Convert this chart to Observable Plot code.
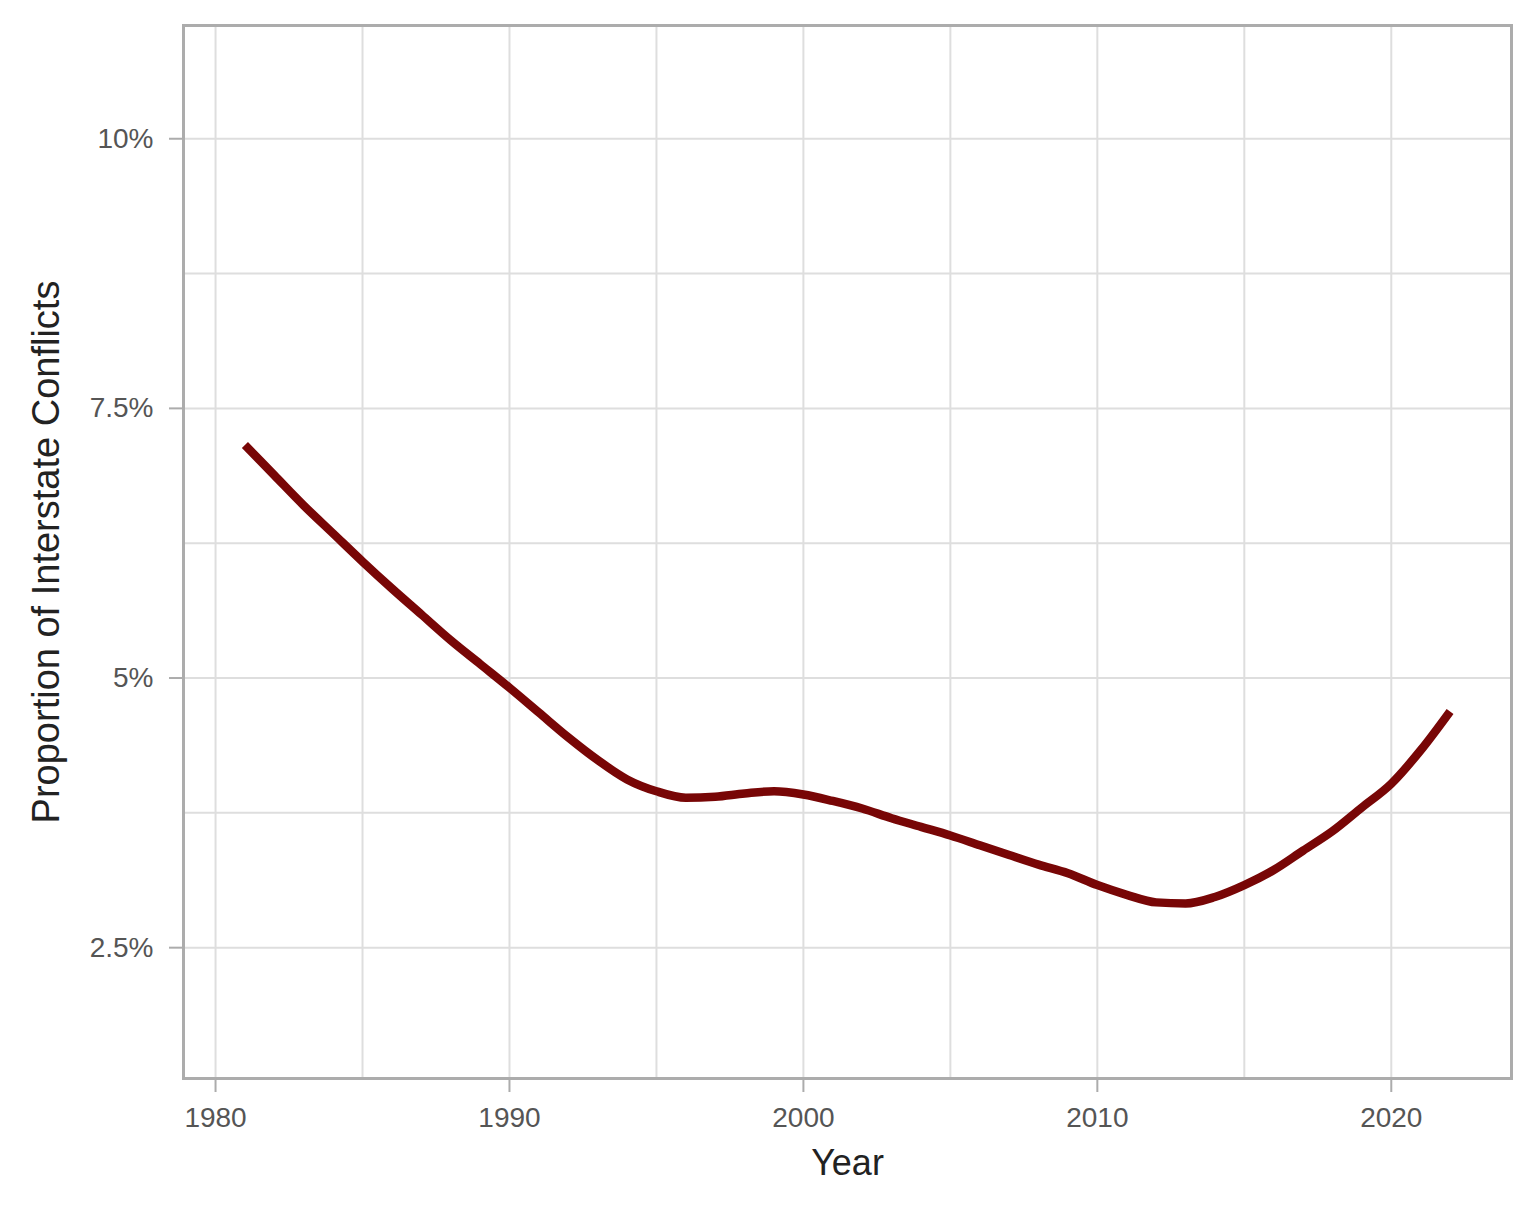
<!DOCTYPE html>
<html>
<head>
<meta charset="utf-8">
<script src="https://cdn.jsdelivr.net/npm/d3@7"></script>
<script src="https://cdn.jsdelivr.net/npm/@observablehq/plot@0.6"></script>
<style>
  html, body { margin: 0; padding: 0; background: #fff; }
  #chart svg { display: block; }
</style>
</head>
<body>
<div id="chart"></div>
<script>
// Years and smoothed proportion of interstate conflicts (%)
const years = [1981,1982,1983,1984,1985,1986,1987,1988,1989,1990,
               1991,1992,1993,1994,1995,1996,1997,1998,1999,2000,
               2001,2002,2003,2004,2005,2006,2007,2008,2009,2010,
               2011,2012,2013,2014,2015,2016,2017,2018,2019,2020,
               2021,2022];
const proportion = [7.16,6.88,6.60,6.34,6.08,5.83,5.59,5.35,5.13,4.91,
                    4.68,4.45,4.24,4.06,3.95,3.89,3.90,3.93,3.95,3.92,
                    3.86,3.79,3.70,3.62,3.54,3.45,3.36,3.27,3.19,3.08,
                    2.99,2.92,2.91,2.97,3.08,3.22,3.40,3.58,3.80,4.02,
                    4.33,4.69];

const xTicks = [1980, 1990, 2000, 2010, 2020];
const xMinor = [1985, 1995, 2005, 2015];
const yTicks = [2.5, 5, 7.5, 10];
const yMinor = [3.75, 6.25, 8.75];
const xTitle = "Year";
const yTitle = "Proportion of Interstate Conflicts";

const data = years.map((y, i) => ({year: y, value: proportion[i]}));

const gridColor = "#dedede";

const chart = Plot.plot({
  width: 1536,
  height: 1220,
  marginLeft: 183,
  marginRight: 25,
  marginTop: 25,
  marginBottom: 142,
  style: {fontFamily: "'Liberation Sans', Arial, sans-serif", background: "#fff"},
  x: {type: "linear", domain: [1978.91, 2024.09]},
  y: {type: "linear", domain: [1.287, 11.05]},
  marks: [
    Plot.ruleX(xMinor, {stroke: gridColor, strokeWidth: 2}),
    Plot.ruleY(yMinor, {stroke: gridColor, strokeWidth: 2}),
    Plot.ruleX(xTicks, {stroke: gridColor, strokeWidth: 2}),
    Plot.ruleY(yTicks, {stroke: gridColor, strokeWidth: 2}),
    Plot.frame({stroke: "#acacac", strokeWidth: 3}),
    Plot.axisX({ticks: xTicks, tickFormat: d => String(d), tickSize: 14, tickPadding: 15,
                fontSize: 28, stroke: "#acacac", strokeWidth: 2, fill: "#555", label: null}),
    Plot.axisY({ticks: yTicks, tickFormat: d => d + "%", tickSize: 14, tickPadding: 16,
                fontSize: 28, stroke: "#acacac", strokeWidth: 2, fill: "#555", label: null}),
    Plot.line(data, {x: "year", y: "value", stroke: "#780606", strokeWidth: 8.5,
                     curve: "monotone-x", strokeLinecap: "butt"}),
    Plot.text([xTitle], {frameAnchor: "bottom", dy: 96, text: d => d, fontSize: 36, fill: "#222"}),
    Plot.text([yTitle], {frameAnchor: "left", textAnchor: "middle", dx: -137, rotate: -90,
                         text: d => d, fontSize: 38, fill: "#222"})
  ]
});

document.getElementById("chart").appendChild(chart);
</script>
</body>
</html>
